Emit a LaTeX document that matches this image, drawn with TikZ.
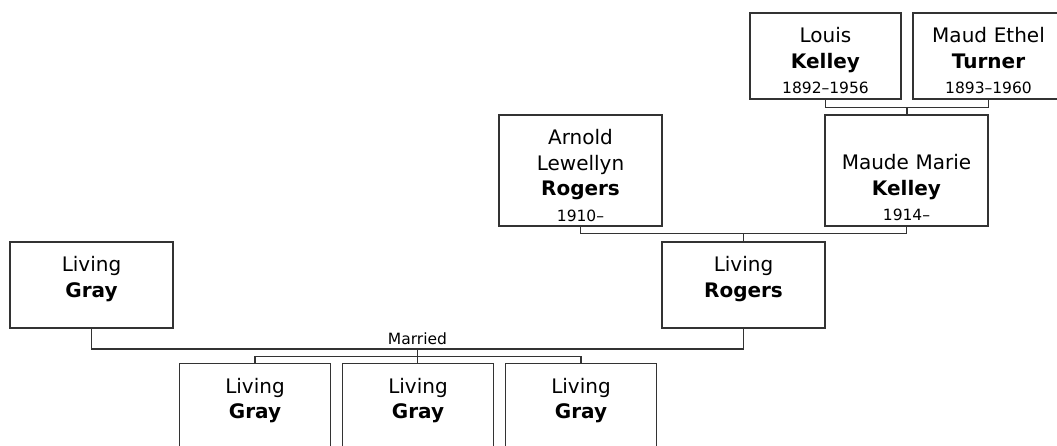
\documentclass[tikz,border=0pt]{standalone}
\usepackage{fontspec}
\setmainfont{DejaVu Sans}
\usetikzlibrary{positioning,calc}
\definecolor{cline}{HTML}{333333}
\newcommand\yearfont{\fontsize{15.5}{20}\selectfont}

\begin{document}
\begin{tikzpicture}[x=1pt,y=-1pt,font=\fontsize{20}{25.5}\selectfont,line width=1.5pt]
  \tikzstyle{p}=[draw=cline,rectangle,inner sep=0pt,outer sep=0pt,align=center,anchor=north west,text width=163pt,text height=29.5pt,text depth=56.5pt]
  \tikzstyle{sm}=[text width=151pt]
  \useasboundingbox (0,0) rectangle (1057,445);
  \clip (0,0) rectangle (1057,445);
  \node[p,sm] (lk) at (750,13) {Louis\\\textbf{Kelley}\\\yearfont 1892–1956};
  \node[p,sm,right=12pt of lk] (mt) {Maud Ethel\\\textbf{Turner}\\\yearfont 1893–1960};
  \node[p,text depth=81.5pt] (ar) at (499,115) {Arnold\\Lewellyn\\\textbf{Rogers}\\\yearfont 1910–};
  \node[p,text height=54.5pt] (mk) at (825,115) {Maude Marie\\\textbf{Kelley}\\\yearfont 1914–};
  \node[p] (lr) at (662,242) {Living\\\textbf{Rogers}};
  \node[p] (lg) at (10,242) {Living\\\textbf{Gray}};
  \node[p,sm] (c1) at (179.5,363.5) {Living\\\textbf{Gray}};
  \node[p,sm,right=12pt of c1] (c2) {Living\\\textbf{Gray}};
  \node[p,sm,right=12pt of c2] (c3) {Living\\\textbf{Gray}};
  \coordinate (m1) at ($(lk.south)!.5!(mt.south)+(0,8.5)$);
  \draw[cline] (lk.south) |- (m1) -| (mt.south);
  \draw[cline] (m1) -- (m1 |- mk.north);
  \coordinate (m2) at ($(ar.south)!.5!(mk.south)+(0,7.5)$);
  \draw[cline] (ar.south) |- (m2) -| (mk.south);
  \draw[cline] (m2) -- (lr.north);
  \coordinate (m3) at ($(lg.south)!.5!(lr.south)+(0,21)$);
  \draw[cline] (lg.south) |- (m3) -| (lr.south);
  \node[font=\yearfont,anchor=base,inner sep=0pt] (mar) at ($(m3)+(0,-4.5)$) {Married};
  \coordinate (k) at ($(m3)+(0,7.5)$);
  \draw[cline] (m3) -- (m3 |- c2.north);
  \draw[cline] (c1.north) |- (k) -| (c3.north);
\end{tikzpicture}
\end{document}
